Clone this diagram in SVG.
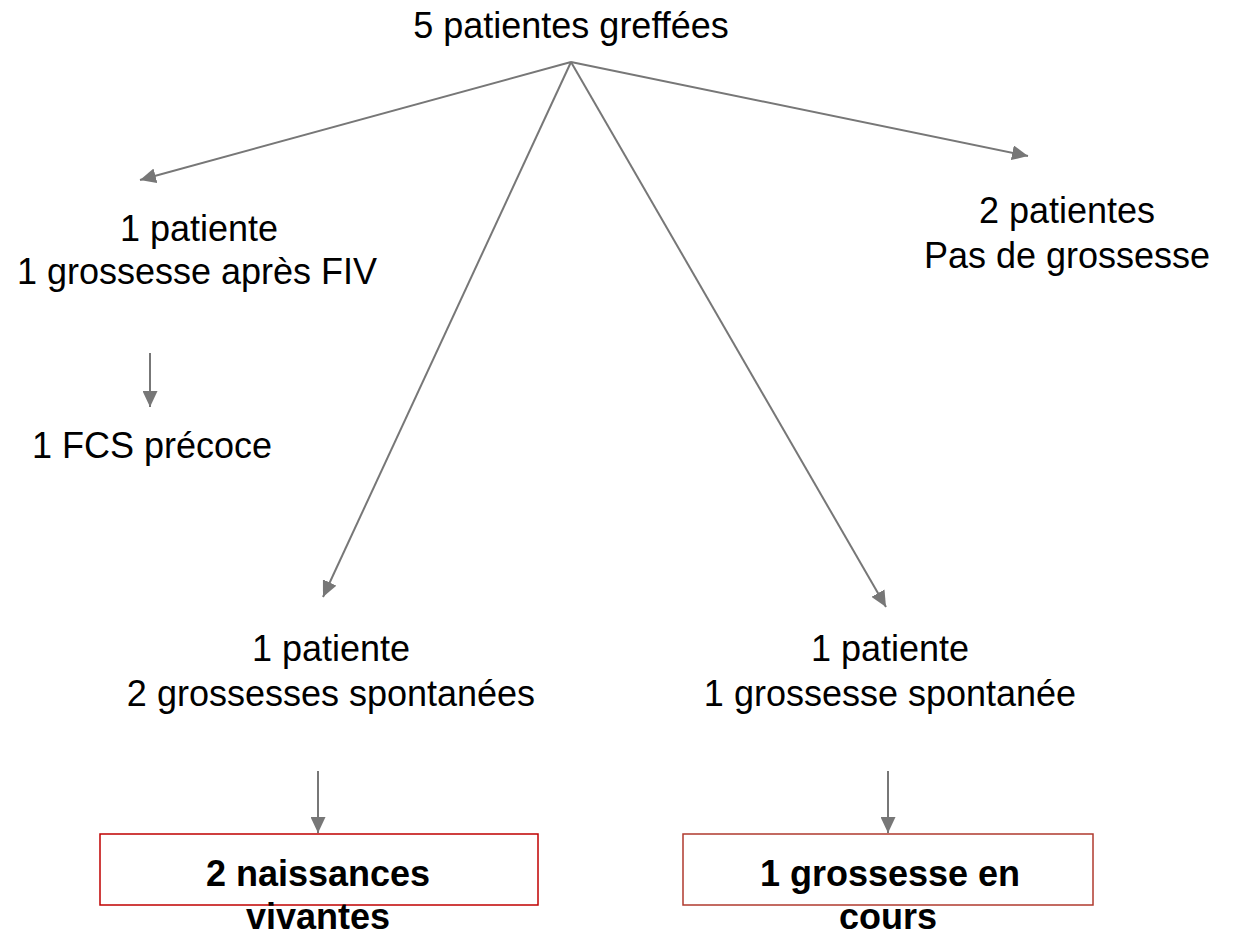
<svg xmlns="http://www.w3.org/2000/svg" width="1234" height="938" viewBox="0 0 1234 938">
<style>
  text { font-family: "Liberation Sans", Arial, sans-serif; font-size: 36px; fill: #000; text-anchor: middle; }
  .b { font-weight: bold; }
  .conn { stroke: #777777; stroke-width: 2; fill: none; }
  .box { fill: #ffffff; stroke-width: 1.5; }
</style>
<defs>
  <marker id="arr" markerUnits="userSpaceOnUse" markerWidth="17" markerHeight="15" refX="16" refY="7.5" orient="auto">
    <path d="M0,0 L16,7.5 L0,15 Z" fill="#777777"/>
  </marker>
</defs>
<rect width="1234" height="938" fill="#ffffff"/>
<g id="connectors">
  <line class="conn" x1="571" y1="62" x2="140" y2="180" marker-end="url(#arr)"/>
  <line class="conn" x1="571" y1="62" x2="1028" y2="156" marker-end="url(#arr)"/>
  <line class="conn" x1="571" y1="62" x2="323" y2="597" marker-end="url(#arr)"/>
  <line class="conn" x1="571" y1="62" x2="886" y2="607" marker-end="url(#arr)"/>
  <line class="conn" x1="150" y1="353" x2="150" y2="407" marker-end="url(#arr)"/>
  <line class="conn" x1="318" y1="771" x2="318" y2="833" marker-end="url(#arr)"/>
  <line class="conn" x1="888" y1="771" x2="888" y2="833" marker-end="url(#arr)"/>
</g>
<g id="root">
  <text x="571" y="38">5 patientes greffées</text>
</g>
<g id="fiv">
  <text x="199" y="241">1 patiente</text>
  <text x="197" y="284">1 grossesse après FIV</text>
</g>
<g id="fcs">
  <text x="152" y="458">1 FCS précoce</text>
</g>
<g id="none">
  <text x="1067" y="223">2 patientes</text>
  <text x="1067" y="268">Pas de grossesse</text>
</g>
<g id="spont2">
  <text x="331" y="661">1 patiente</text>
  <text x="331" y="706">2 grossesses spontanées</text>
</g>
<g id="spont1">
  <text x="890" y="661">1 patiente</text>
  <text x="890" y="706">1 grossesse spontanée</text>
</g>
<g id="births">
  <rect class="box" x="100" y="834" width="438" height="71" stroke="#c00000"/>
  <text class="b" x="318" y="886">2 naissances</text>
  <text class="b" x="318" y="929">vivantes</text>
</g>
<g id="ongoing">
  <rect class="box" x="683" y="834" width="410" height="71" stroke="#b03a2e"/>
  <text class="b" x="890" y="886">1 grossesse en</text>
  <text class="b" x="888" y="929">cours</text>
</g>
</svg>
